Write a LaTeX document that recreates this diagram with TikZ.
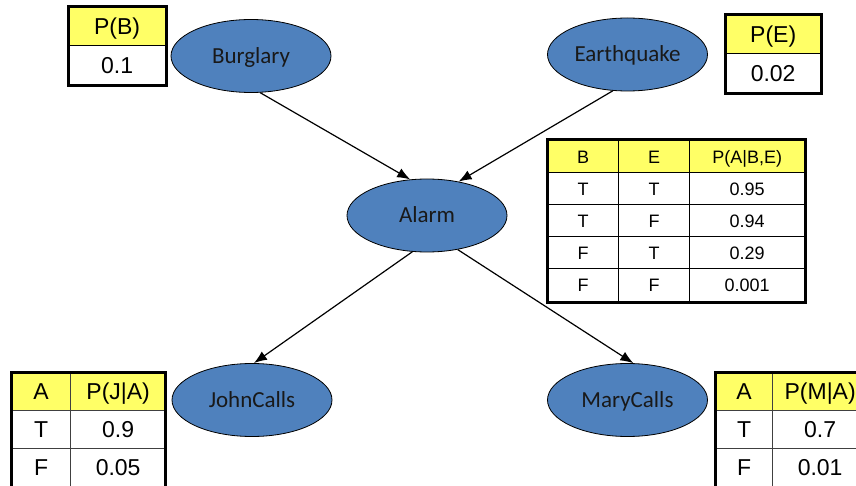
\documentclass[tikz,border=0pt]{standalone}
\usepackage{fontspec}
\newfontfamily\calfont{Carlito}
\newfontfamily\arialfont{Liberation Sans}
\usetikzlibrary{arrows.meta,shapes.geometric}
\definecolor{nodeblue}{HTML}{4F81BD}
\definecolor{cptyellow}{HTML}{FFFF66}
\definecolor{gridgray}{HTML}{404040}
\tikzset{
  bnode/.style={ellipse, draw=black, line width=0.8pt, fill=nodeblue,
    minimum width=160pt, minimum height=73pt, inner sep=0pt,
    font=\calfont\fontsize{23}{27}\selectfont, text=black!90,
    text height=16pt, text depth=1pt},
  linkarrow/.style={line width=1.2pt, -{Latex[length=13pt,width=10pt]}},
  cellbase/.style={draw=black, line width=1.3pt, inner sep=0pt, anchor=north west},
  bigcell/.style={cellbase, font=\arialfont\fontsize{23}{27}\selectfont,
    text height=17.5pt, text depth=1pt},
  smallcell/.style={cellbase, font=\arialfont\fontsize{18}{21}\selectfont,
    text height=13.9pt, text depth=1pt},
  hdr/.style={fill=cptyellow},
  val/.style={fill=white},
  outer/.style={draw=black, line width=3pt},
}
\begin{document}
\begin{tikzpicture}[x=1pt,y=-1pt]
\useasboundingbox[fill=white] (0,0) rectangle (856,486);
\clip (0,0) rectangle (856,486);

% ---------- network nodes ----------
\node[bnode] (burglary)   at (251,56)    {Burglary};
\node[bnode] (earthquake) at (627.5,54.5) {Earthquake};
\node[bnode] (alarm)      at (427,215.5) {Alarm};
\node[bnode] (john)       at (252,400)   {JohnCalls};
\node[bnode] (mary)       at (627.5,400) {MaryCalls};

\draw[linkarrow] (burglary.-76)    -- (alarm.115);
\draw[linkarrow] (earthquake.-112) -- (alarm.47);
\draw[linkarrow] (alarm.-112)      -- (john.87);
\draw[linkarrow] (alarm.-48)       -- (mary.81);

% ---------- P(B) ----------
\node[bigcell,hdr,minimum width=97pt,minimum height=38pt] (pbh) at (68,7)  {P(B)};
\node[bigcell,val,minimum width=97pt,minimum height=39pt] (pbv) at (68,45) {0.1};
\draw[outer] (pbh.north west) rectangle (pbv.south east);

% ---------- P(E) ----------
\node[bigcell,hdr,minimum width=95pt,minimum height=38pt] (peh) at (725,15) {P(E)};
\node[bigcell,val,minimum width=95pt,minimum height=39pt] (pev) at (725,53) {0.02};
\draw[outer] (peh.north west) rectangle (pev.south east);

% ---------- P(A|B,E) ----------
\node[smallcell,hdr,minimum width=71pt, minimum height=32pt] (a01) at (547,140) {B};
\node[smallcell,hdr,minimum width=71pt, minimum height=32pt] (a02) at (618,140) {E};
\node[smallcell,hdr,minimum width=115pt,minimum height=32pt] (a03) at (689,140) {P(A|B,E)};
\node[smallcell,val,minimum width=71pt, minimum height=32pt] (a11) at (547,172) {T};
\node[smallcell,val,minimum width=71pt, minimum height=32pt] (a12) at (618,172) {T};
\node[smallcell,val,minimum width=115pt,minimum height=32pt] (a13) at (689,172) {0.95};
\node[smallcell,val,minimum width=71pt, minimum height=32pt] (a21) at (547,204) {T};
\node[smallcell,val,minimum width=71pt, minimum height=32pt] (a22) at (618,204) {F};
\node[smallcell,val,minimum width=115pt,minimum height=32pt] (a23) at (689,204) {0.94};
\node[smallcell,val,minimum width=71pt, minimum height=32pt] (a31) at (547,236) {F};
\node[smallcell,val,minimum width=71pt, minimum height=32pt] (a32) at (618,236) {T};
\node[smallcell,val,minimum width=115pt,minimum height=32pt] (a33) at (689,236) {0.29};
\node[smallcell,val,minimum width=71pt, minimum height=33pt] (a41) at (547,268) {F};
\node[smallcell,val,minimum width=71pt, minimum height=33pt] (a42) at (618,268) {F};
\node[smallcell,val,minimum width=115pt,minimum height=33pt] (a43) at (689,268) {0.001};
\draw[outer] (a01.north west) rectangle (a43.south east);

% ---------- P(J|A) ----------
\node[bigcell,hdr,draw=gridgray,minimum width=59pt,minimum height=38pt] (j01) at (11,372) {A};
\node[bigcell,hdr,draw=gridgray,minimum width=95pt,minimum height=38pt] (j02) at (70,372) {P(J|A)};
\node[bigcell,val,draw=gridgray,minimum width=59pt,minimum height=38pt] (j11) at (11,410) {T};
\node[bigcell,val,draw=gridgray,minimum width=95pt,minimum height=38pt] (j12) at (70,410) {0.9};
\node[bigcell,val,draw=gridgray,minimum width=59pt,minimum height=38pt] (j21) at (11,448) {F};
\node[bigcell,val,draw=gridgray,minimum width=95pt,minimum height=38pt] (j22) at (70,448) {0.05};
\coordinate (jbot) at (165,492);
\draw[outer] (j01.north west) rectangle (jbot);

% ---------- P(M|A) ----------
\node[bigcell,hdr,draw=gridgray,minimum width=57pt,minimum height=38pt] (m01) at (715,372) {A};
\node[bigcell,hdr,draw=gridgray,minimum width=95pt,minimum height=38pt] (m02) at (772,372) {P(M|A)};
\node[bigcell,val,draw=gridgray,minimum width=57pt,minimum height=38pt] (m11) at (715,410) {T};
\node[bigcell,val,draw=gridgray,minimum width=95pt,minimum height=38pt] (m12) at (772,410) {0.7};
\node[bigcell,val,draw=gridgray,minimum width=57pt,minimum height=38pt] (m21) at (715,448) {F};
\node[bigcell,val,draw=gridgray,minimum width=95pt,minimum height=38pt] (m22) at (772,448) {0.01};
\coordinate (mbot) at (867,492);
\draw[outer] (m01.north west) rectangle (mbot);
\end{tikzpicture}
\end{document}
